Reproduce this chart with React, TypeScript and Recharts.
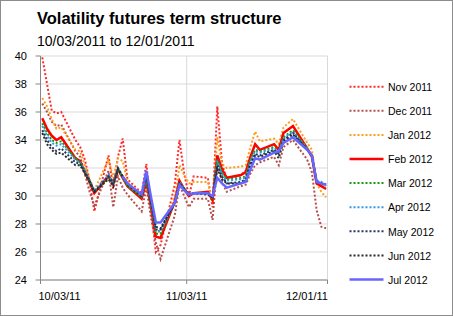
import React from 'react';
import { LineChart, Line, XAxis, YAxis, CartesianGrid } from 'recharts';

// trading days shown on the chart
const dates = [
  '2011-10-03', '2011-10-04', '2011-10-05', '2011-10-06', '2011-10-07',
  '2011-10-10', '2011-10-11', '2011-10-12', '2011-10-13', '2011-10-14',
  '2011-10-17', '2011-10-18', '2011-10-19', '2011-10-20', '2011-10-21',
  '2011-10-24', '2011-10-25', '2011-10-26', '2011-10-27', '2011-10-28',
  '2011-10-31', '2011-11-01', '2011-11-02', '2011-11-03', '2011-11-04',
  '2011-11-07', '2011-11-08', '2011-11-09', '2011-11-10', '2011-11-11',
  '2011-11-14', '2011-11-15', '2011-11-16', '2011-11-17', '2011-11-18',
  '2011-11-21', '2011-11-22', '2011-11-23', '2011-11-25', '2011-11-28',
  '2011-11-29', '2011-11-30', '2011-12-01', '2011-12-02',
];

const nov11 = [39.9, 38.0, 36.1, 35.9, 36.0, 34.0, 33.5, 32.6, 31.1, 28.9, 32.9, 30.5, 32.8, 34.1, 31.2, 30.2, 32.3, 29.0, 26.0, 26.5, 30.8, 34.0, 31.6, 30.0, 31.4, 31.3, 29.2, 36.4, 32.3, 31.2, 31.5, 31.8, null, null, null, null, null, null, null, null, null, null, null, null];
const dec11 = [36.6, 36.0, 35.3, 35.0, 35.1, 33.2, 32.8, 31.6, 30.3, 29.3, 31.8, 29.2, 31.4, 30.6, 30.1, 28.9, 30.6, 28.4, 26.7, 25.5, 28.6, 30.8, 30.0, 29.2, 29.8, 29.8, 28.3, 32.4, 31.0, 30.3, 30.7, 30.8, 31.6, 32.2, 32.4, 32.8, 32.2, 33.5, 34.0, 32.6, 31.7, 29.0, 27.8, 27.7];
const jan12 = [37.0, 36.4, 35.5, 34.8, 34.9, 33.3, 33.2, 32.2, 31.2, 30.4, 32.6, 31.3, 32.7, 32.5, 31.0, 30.1, 31.3, 29.4, 27.3, 27.5, 29.9, 32.2, 31.5, 30.9, 31.0, 31.0, 29.6, 34.2, 32.3, 32.0, 32.1, 32.2, 33.5, 34.6, 33.9, 34.1, 33.7, 34.9, 35.5, 33.8, 33.3, 30.9, 30.3, 29.9];
const feb12 = [35.55, 34.8, 34.3, 34.0, 34.2, 32.7, 32.5, 31.7, 31.0, 30.2, 31.4, 30.9, 31.9, 31.3, 30.7, 29.8, 31.0, 29.2, 27.1, 27.0, 29.6, 31.1, 30.5, 30.0, 30.2, 30.3, 29.7, 32.9, 31.9, 31.3, 31.5, 31.7, 32.8, 33.7, 33.3, 33.7, 33.3, 34.5, 35.0, 33.4, 32.8, 30.9, 30.7, 30.5];
const mar12 = [35.2, 34.5, 34.0, 33.8, 33.9, 32.7, 32.4, 31.8, 31.1, 30.3, 31.4, 30.9, 31.9, 31.3, 30.7, 29.9, 31.1, 29.3, 27.3, 27.3, 29.5, 31.0, 30.5, 30.1, 30.2, 30.2, 29.8, 32.6, 31.7, 31.2, 31.3, 31.4, 32.6, 33.3, 33.2, 33.5, 33.2, 34.2, 34.7, 33.4, 32.8, 31.0, 30.9, 30.7];
const apr12 = [35.0, 34.3, 33.8, 33.6, 33.7, 32.6, 32.4, 31.8, 31.1, 30.4, 31.5, 31.0, 32.0, 31.4, 30.8, 30.0, 31.3, 29.4, 27.5, 27.5, 29.5, 31.0, 30.5, 30.1, 30.2, 30.2, 29.9, 32.5, 31.5, 31.1, 31.2, 31.3, 32.5, 33.2, 33.1, 33.4, 33.1, 34.1, 34.6, 33.4, 32.9, 31.1, 31.0, 30.8];
const may12 = [34.7, 34.0, 33.5, 33.2, 33.4, 32.4, 32.3, 31.7, 31.1, 30.3, 31.4, 30.9, 32.0, 31.4, 30.9, 30.0, 31.4, 29.5, 27.6, 27.6, 29.5, 30.9, 30.5, 30.1, 30.2, 30.2, 29.9, 32.2, 31.4, 30.9, 31.0, 31.2, 32.3, 33.0, 32.9, 33.3, 33.0, 34.0, 34.5, 33.3, 32.9, 31.0, 30.9, 30.8];
const jun12 = [34.5, 33.7, 33.3, 33.0, 33.1, 32.2, 32.2, 31.6, 31.0, 30.3, 31.2, 30.7, 31.9, 31.4, 30.8, 30.0, 31.5, 29.6, 27.8, 27.7, 29.5, 30.9, 30.5, 30.1, 30.2, 30.1, 29.9, 31.9, 31.2, 30.9, 30.9, 31.1, 32.2, 32.9, 32.8, 33.2, 32.7, 33.9, 34.4, 33.3, 32.9, 31.0, 30.9, 30.8];
const jul12 = [null, null, null, null, null, null, null, null, null, null, null, null, null, 31.4, 30.9, 30.1, 31.8, 29.9, 28.1, 28.1, 29.5, 30.8, 30.4, 30.1, 30.2, 30.2, 30.0, 31.3, 30.9, 30.6, 30.9, 31.0, 31.9, 32.7, 32.6, 33.1, 33.2, 33.8, 34.2, 33.3, 32.9, 31.0, 30.9, 30.8];

const series = [
  { key: 'nov11', name: 'Nov 2011', values: nov11 },
  { key: 'dec11', name: 'Dec 2011', values: dec11 },
  { key: 'jan12', name: 'Jan 2012', values: jan12 },
  { key: 'feb12', name: 'Feb 2012', values: feb12 },
  { key: 'mar12', name: 'Mar 2012', values: mar12 },
  { key: 'apr12', name: 'Apr 2012', values: apr12 },
  { key: 'may12', name: 'May 2012', values: may12 },
  { key: 'jun12', name: 'Jun 2012', values: jun12 },
  { key: 'jul12', name: 'Jul 2012', values: jul12 },
];

const yTicks = [24, 26, 28, 30, 32, 34, 36, 38, 40];
// axis ticks in days from the first date
const xTicks = [-0.38, 30.53, 60.3];
const xTickLabels = ['10/03/11', '11/03/11', '12/01/11'];

const styles: Record<string, { color: string; dash?: string; width: number }> = {
  nov11: { color: '#ff2b2b', dash: '2 2', width: 2 },
  dec11: { color: '#b4504c', dash: '2 2', width: 2 },
  jan12: { color: '#ff9c1a', dash: '2 2', width: 2 },
  feb12: { color: '#ff0000', width: 2.5 },
  mar12: { color: '#10a010', dash: '2 2', width: 2 },
  apr12: { color: '#3399e6', dash: '2 2', width: 2 },
  may12: { color: '#1f3a6a', dash: '2 2', width: 2 },
  jun12: { color: '#2a2a2a', dash: '2 2', width: 2 },
  jul12: { color: '#6666ff', width: 2.5 },
};

const FONT = '"Liberation Sans", Arial, sans-serif';
const DAY = 86400000;
const t0 = Date.parse(dates[0]);

const rows = dates.map((d, i) => {
  const row: any = { day: (Date.parse(d) - t0) / DAY };
  series.forEach((s) => { row[s.key] = s.values[i]; });
  return row;
});

const XTick = (props: any) => {
  const { x, y, payload } = props;
  const i = xTicks.indexOf(payload.value);
  const anchor = i === 0 ? 'start' : i === xTicks.length - 1 ? 'end' : 'middle';
  const dx = i === 0 ? -2 : i === xTicks.length - 1 ? 0.5 : 0;
  return (
    <text x={x + dx} y={y} dy={8.5} textAnchor={anchor} fontSize={11} fill="#000" fontFamily={FONT}>
      {xTickLabels[i]}
    </text>
  );
};

export default function App() {
  return (
    <div style={{ position: 'absolute', left: 0, top: 0, width: 453, height: 316, background: '#fff', fontFamily: FONT }}>
      <LineChart width={453} height={316} data={rows} margin={{ top: 56, right: 125.5, bottom: 6, left: 10.5 }}>
        <CartesianGrid stroke="#d9d9d9" verticalPoints={undefined} />
        <XAxis
          dataKey="day"
          type="number"
          domain={[xTicks[0], xTicks[xTicks.length - 1]]}
          ticks={xTicks}
          allowDataOverflow
          height={30}
          tickSize={4}
          tickMargin={7.5}
          interval={0}
          stroke="#868686"
          tick={<XTick />}
        />
        <YAxis
          domain={[24, 40]}
          ticks={yTicks}
          allowDataOverflow
          width={30}
          tickSize={5}
          tickMargin={8.5}
          interval={0}
          stroke="#868686"
          tick={{ fontSize: 11, fill: '#000', fontFamily: FONT }}
        />
        {series.map((s) => (
          <Line
            key={s.key}
            type="linear"
            dataKey={s.key}
            stroke={styles[s.key].color}
            strokeWidth={styles[s.key].width}
            strokeDasharray={styles[s.key].dash}
            dot={false}
            activeDot={false}
            isAnimationActive={false}
          />
        ))}
      </LineChart>
      <svg width={453} height={316} style={{ position: 'absolute', left: 0, top: 0, pointerEvents: 'none' }}>
        <rect x={0.5} y={0.5} width={452} height={315} fill="none" stroke="#8c8c8c" />
        <text x={37} y={24} fontSize={16.5} fontWeight="bold" fontFamily={FONT} fill="#000">
          Volatility futures term structure
        </text>
        <text x={37} y={46} fontSize={14} fontFamily={FONT} fill="#000">
          10/03/2011 to 12/01/2011
        </text>
        {series.map((s, i) => {
          const cy = 86.7 + i * 24.1;
          const st = styles[s.key];
          return (
            <g key={s.key}>
              <line x1={349.5} x2={383.5} y1={cy} y2={cy} stroke={st.color} strokeWidth={st.width} strokeDasharray={st.dash} />
              <text x={388} y={cy + 4.2} fontSize={10.5} fontFamily={FONT} fill="#000">
                {s.name}
              </text>
            </g>
          );
        })}
      </svg>
    </div>
  );
}
